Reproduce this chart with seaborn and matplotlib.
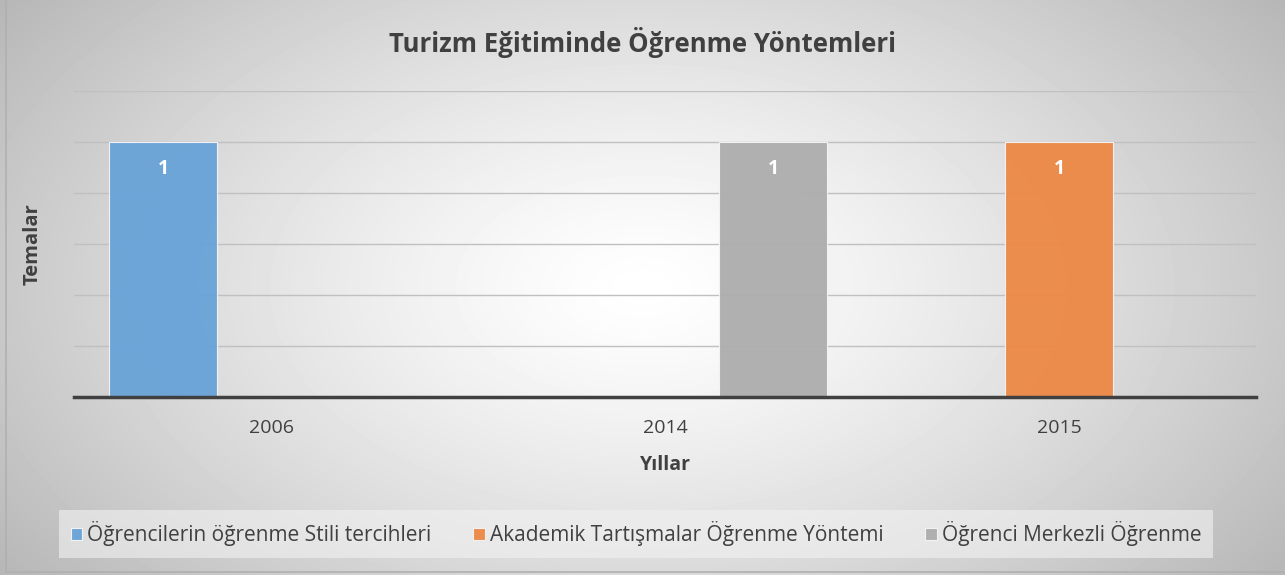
import numpy as np
import pandas as pd
import seaborn as sns
import matplotlib.pyplot as plt

# Data
years = ['2006', '2014', '2015']
series = ['Öğrencilerin öğrenme Stili tercihleri',
          'Akademik Tartışmalar Öğrenme Yöntemi',
          'Öğrenci Merkezli Öğrenme']
bar_years = ['2006', '2015', '2014']
bar_series = series
bar_values = [1, 1, 1]
colors = ['#6BA4D8', '#EC8A48', '#AEAEAE']

df = pd.DataFrame({'Yıl': bar_years, 'Tema': bar_series, 'Sayı': bar_values})

sns.set_theme(style='white')
plt.rcParams['font.family'] = ['Open Sans', 'DejaVu Sans']

fig = plt.figure(figsize=(12.85, 5.75), dpi=100)

# radial gradient background
bg = fig.add_axes([0, 0, 1, 1], zorder=-10)
yy, xx = np.mgrid[0:575, 0:1285]
d = np.sqrt(((xx - 642) / 700.0) ** 2 + ((yy - 287) / 420.0) ** 2)
shade = 1.0 - 0.24 * np.clip(d, 0, 1.15) ** 1.3
bg.imshow(shade, cmap='gray', vmin=0, vmax=1, aspect='auto', extent=[0, 1285, 575, 0])
bg.plot([6, 6], [0, 572], color='#b0b0b0', lw=1.2)
bg.plot([6, 1285], [572, 572], color='#b0b0b0', lw=1.2)
bg.set_xlim(0, 1285)
bg.set_ylim(575, 0)
bg.axis('off')

ax = fig.add_axes([74 / 1285, 1 - 397 / 575, (1256 - 74) / 1285, (397 - 91) / 575])
ax.patch.set_alpha(0)

sns.barplot(data=df, x='Yıl', y='Sayı', hue='Tema', order=years, hue_order=series,
            palette=colors, saturation=1, width=0.822, dodge=True, alpha=0.97,
            edgecolor='#f4f4f4', linewidth=0.8, ax=ax, legend=True)

ax.set_ylim(0, 1.2)
ax.set_yticks(np.arange(0.2, 1.21, 0.2))
ax.set_yticklabels([])
ax.tick_params(axis='y', length=0)
ax.tick_params(axis='x', length=0, labelsize=14, colors='#404040', pad=16)
ax.grid(axis='y', color='#c0c0c0', lw=1)
ax.set_axisbelow(True)
for s in ['top', 'right', 'left']:
    ax.spines[s].set_visible(False)
ax.spines['bottom'].set_color('#404040')
ax.spines['bottom'].set_linewidth(2.5)

for c in ax.containers:
    ax.bar_label(c, fmt='%g', label_type='edge', padding=-27, color='white',
                 fontweight='bold', fontsize=14)

ax.set_xlabel('Yıllar', fontsize=14, fontweight='bold', color='#404040', labelpad=13)
ax.set_ylabel('Temalar', fontsize=14.5, fontweight='bold', color='#404040', labelpad=19)

fig.text(0.5, 1 - 43 / 575, 'Turizm Eğitiminde Öğrenme Yöntemleri', ha='center', va='center',
         fontsize=18.5, fontweight='bold', color='#404040')

handles, labels = ax.get_legend_handles_labels()
ax.get_legend().remove()
leg = fig.legend(handles, labels, loc='center', bbox_to_anchor=(636 / 1285, 1 - 534 / 575),
                 ncol=3, frameon=True, fontsize=15, handlelength=0.55, handleheight=0.55,
                 handletextpad=0.25, columnspacing=2.0, borderpad=0.55, fancybox=False)
leg.get_frame().set_facecolor('#f2f2f2')
leg.get_frame().set_alpha(0.6)
leg.get_frame().set_edgecolor('none')
for t in leg.get_texts():
    t.set_color('#404040')

fig.savefig('out.png', dpi=100)
